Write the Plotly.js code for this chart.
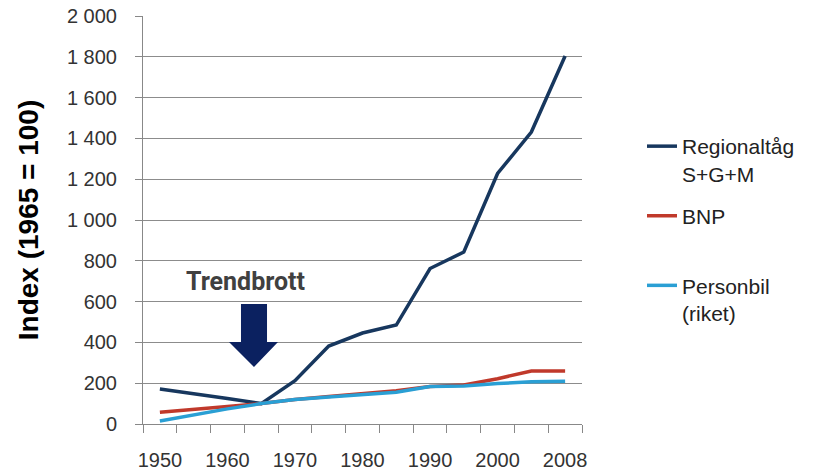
<!DOCTYPE html>
<html>
<head>
<meta charset="utf-8">
<script src="https://cdn.plot.ly/plotly-3.0.1.min.js"></script>
<style>html,body{margin:0;padding:0;background:#fff;}#chart{width:824px;height:471px;}</style>
</head>
<body>
<div id="chart"></div>
<script>
// Data
const years = ['1950','1955','1960','1965','1970','1975','1980','1985','1990','1995','2000','2005','2008'];
const regionaltag = [172, 150, 125, 100, 212, 382, 446, 485, 762, 843, 1228, 1431, 1804];
const bnp = [58, 70, 86, 100, 120, 135, 150, 163, 184, 191, 222, 260, 260];
const personbil = [15, 45, 74, 100, 120, 132, 142, 156, 184, 186, 198, 207, 210];
const seriesNames = ['Regionaltåg<br>S+G+M', 'BNP<br>\u00a0', 'Personbil<br>(riket)'];
const seriesColors = ['#17375e', '#c0392b', '#2a9fd4'];
const yTitle = 'Index (1965 = 100)';
const noteText = 'Trendbrott';

// Layout geometry (pixels)
const W = 824, H = 471;
const M = {l: 143, r: 242, t: 16, b: 47};
const pw = W - M.l - M.r, ph = H - M.t - M.b;
const px = x => (x - M.l) / pw;
const py = y => (H - M.b - y) / ph;

const values = [regionaltag, bnp, personbil];
const traces = values.map((v, i) => ({
  type: 'scatter', mode: 'lines', x: years, y: v,
  name: seriesNames[i], legendgroup: 'g' + i,
  line: {color: seriesColors[i], width: 3.5},
  hoverinfo: 'skip'
}));

// Block arrow (annotation graphic)
const ap = [[241,304],[267,304],[267,342],[278,342],[254,367],[229,342],[241,342]];
const arrowPath = 'M' + ap.map(p => px(p[0]).toFixed(4) + ',' + py(p[1]).toFixed(4)).join(' L') + ' Z';

const layout = {
  width: W, height: H,
  margin: M,
  paper_bgcolor: '#ffffff', plot_bgcolor: '#ffffff',
  separators: ', ',
  font: {family: '"Liberation Sans", Arial, sans-serif', color: '#333333', size: 20},
  showlegend: true,
  legend: {
    x: px(642), xanchor: 'left', y: py(126), yanchor: 'top',
    valign: 'top', tracegroupgap: 12,
    font: {size: 21, color: '#222222'},
    bgcolor: 'rgba(0,0,0,0)'
  },
  xaxis: {
    type: 'category', range: [-0.5, 12.5], fixedrange: true,
    tickson: 'boundaries', ticks: 'outside', ticklen: 8, tickcolor: '#888888', tickwidth: 1,
    ticklabelstep: 2, ticklabelstandoff: 18, tickangle: 0,
    showgrid: false, showline: true, linecolor: '#888888', linewidth: 1,
    tickfont: {size: 20, color: '#333333'}, zeroline: false
  },
  yaxis: {
    range: [0, 2000], dtick: 200, tickformat: ',d', fixedrange: true,
    ticks: 'outside', ticklen: 7, tickcolor: '#888888',
    ticklabelstandoff: 14,
    showgrid: true, gridcolor: '#8c8c8c', gridwidth: 1,
    showline: true, linecolor: '#888888', linewidth: 1, zeroline: false,
    tickfont: {size: 20, color: '#333333'},
    title: {text: yTitle, standoff: 20, font: {size: 28, color: '#000000', family: '"Liberation Sans", Arial, sans-serif', weight: 'bold'}}
  },
  shapes: [{
    type: 'path', xref: 'paper', yref: 'paper', path: arrowPath,
    fillcolor: '#0b2160', line: {width: 0}
  }],
  annotations: [{
    xref: 'paper', yref: 'paper', x: px(245), y: py(281),
    xanchor: 'center', yanchor: 'middle', showarrow: false,
    text: '<b>' + noteText + '</b>',
    font: {family: 'Roboto, sans-serif', size: 25, color: '#404040'}
  }]
};

Plotly.newPlot('chart', traces, layout, {displayModeBar: false, staticPlot: true});
</script>
</body>
</html>
